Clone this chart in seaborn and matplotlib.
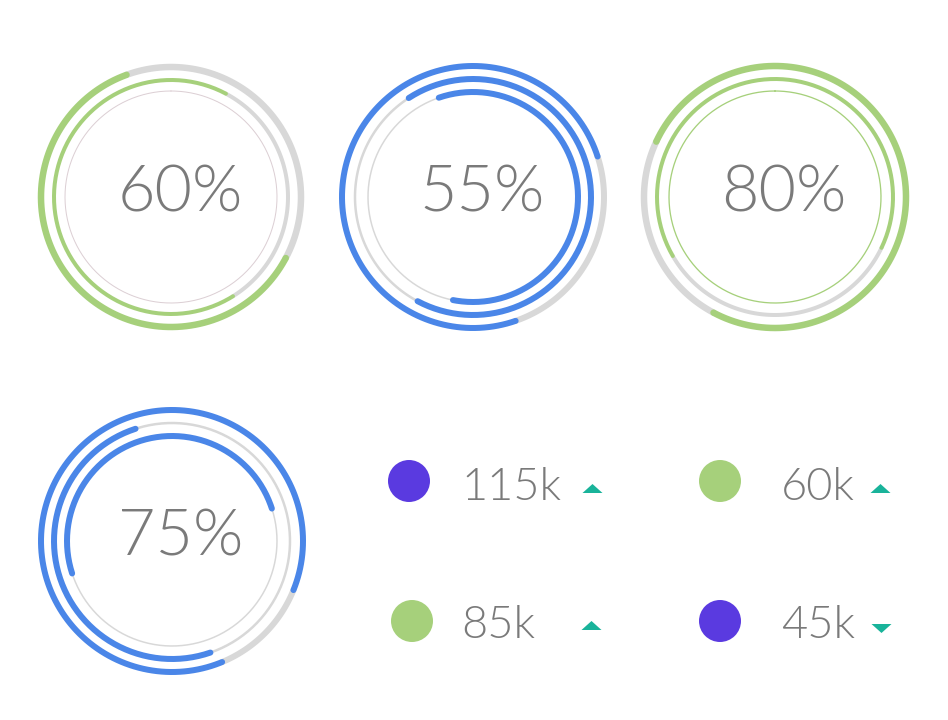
import numpy as np
import pandas as pd
import matplotlib
matplotlib.use("Agg")
import matplotlib.pyplot as plt
import seaborn as sns

# ring charts: label and colour of each gauge
ring_labels = ["60%", "55%", "80%", "75%"]
ring_colors = ["#a6d07b", "#4a86e8", "#a6d07b", "#4a86e8"]
# three tracks per gauge (outer, middle, inner): start angle and signed sweep in degrees
ring_starts = [[110, 62, 90], [18, 123, 109], [155, -25.5, 90], [-22, 108, 198]]
ring_sweeps = [[222, 240, 0], [271, -241, -210], [-273, 235.5, 360], [314.5, 181, -180]]

# small stats on the lower right
stat_values = ["115k", "60k", "85k", "45k"]
stat_colors = ["#5a3ae0", "#a6d07b", "#a6d07b", "#5a3ae0"]
stat_trend = ["up", "up", "up", "down"]

# layout (pixels)
ring_centers = [(171, 197), (473, 197), (775, 197), (172, 541)]
ring_radii = [[130, 117, 106], [131, 118, 105], [131, 118, 106], [131, 118, 105]]
ring_lw = [[(6.5, 6.5), (4, 4), (1, 1)], [(6, 6), (6, 2.5), (6, 1.5)],
           [(6.5, 6.5), (4, 4), (1.3, 1.3)], [(6, 6), (6, 2.5), (6, 1.5)]]
ring_track = ["#d8d8d8", "#d8d8d8", "#d8d8d8", "#d8d8d8"]
inner_track = ["#dccfd4", "#d8d8d8", "#a6d07b", "#d8d8d8"]
dot_x = [409, 720, 412, 720]
dot_y = [481, 481, 621, 621]
text_x = [461, 781, 461, 781]
text_y = [488, 488, 626, 626]
tri_x = [592, 880, 591, 881]
tri_y = [488, 488, 625, 628]

PX = 0.72  # pixel -> point at dpi 100

sns.set_theme(style="white")
plt.rcParams['font.family'] = ['Lato', 'DejaVu Sans']

fig = plt.figure(figsize=(9.48, 7.2), dpi=100)
ax = fig.add_axes([0, 0, 1, 1])
ax.set_xlim(0, 948)
ax.set_ylim(720, 0)
ax.axis('off')


def arc(cx, cy, r, a0, sweep, color, lw):
    if abs(sweep) < 0.1:
        return
    n = max(int(abs(sweep)), 2)
    t = np.radians(np.linspace(a0, a0 + sweep, n))
    df = pd.DataFrame({'x': cx + r * np.cos(t), 'y': cy - r * np.sin(t)})
    sns.lineplot(data=df, x='x', y='y', sort=False, estimator=None, ax=ax,
                 color=color, lw=lw * PX, solid_capstyle='round')


for k in range(len(ring_labels)):
    cx, cy = ring_centers[k]
    for j in range(3):
        r = ring_radii[k][j]
        a0 = ring_starts[k][j]
        sw = ring_sweeps[k][j]
        lw_on, lw_off = ring_lw[k][j]
        track = inner_track[k] if j == 2 else ring_track[k]
        # background remainder
        rest = 360 - abs(sw)
        if rest > 0.1:
            arc(cx, cy, r, a0 + sw, np.sign(sw if sw != 0 else 1) * rest, track, lw_off)
        arc(cx, cy, r, a0, sw, ring_colors[k], lw_on)
    ax.text(cx + 9, cy - 3, ring_labels[k], ha='center', va='center',
            fontsize=46.5, fontweight=300, color='#7a7a7a')

# stat dots
sdf = pd.DataFrame({'x': dot_x, 'y': dot_y, 'c': stat_values})
sns.scatterplot(data=sdf, x='x', y='y', hue='c', palette=dict(zip(stat_values, stat_colors)),
                s=(42 * PX) ** 2, linewidth=0, legend=False, ax=ax)

for i, v in enumerate(stat_values):
    ax.text(text_x[i], text_y[i], v, ha='left', va='center', fontsize=32.5,
            fontweight=300, color='#7a7a7a')

up = [i for i, t in enumerate(stat_trend) if t == "up"]
down = [i for i, t in enumerate(stat_trend) if t == "down"]
up_marker = [(-1, -0.45), (1, -0.45), (0, 0.45)]
down_marker = [(-1, 0.45), (1, 0.45), (0, -0.45)]
ax.scatter([tri_x[i] for i in up], [tri_y[i] for i in up], marker=up_marker,
           s=(20 * PX) ** 2, color='#19b39a', linewidth=0)
ax.scatter([tri_x[i] for i in down], [tri_y[i] for i in down], marker=down_marker,
           s=(20 * PX) ** 2, color='#19b39a', linewidth=0)

ax.set_xlabel('')
ax.set_ylabel('')
fig.savefig('out.png', dpi=100, facecolor='white')
